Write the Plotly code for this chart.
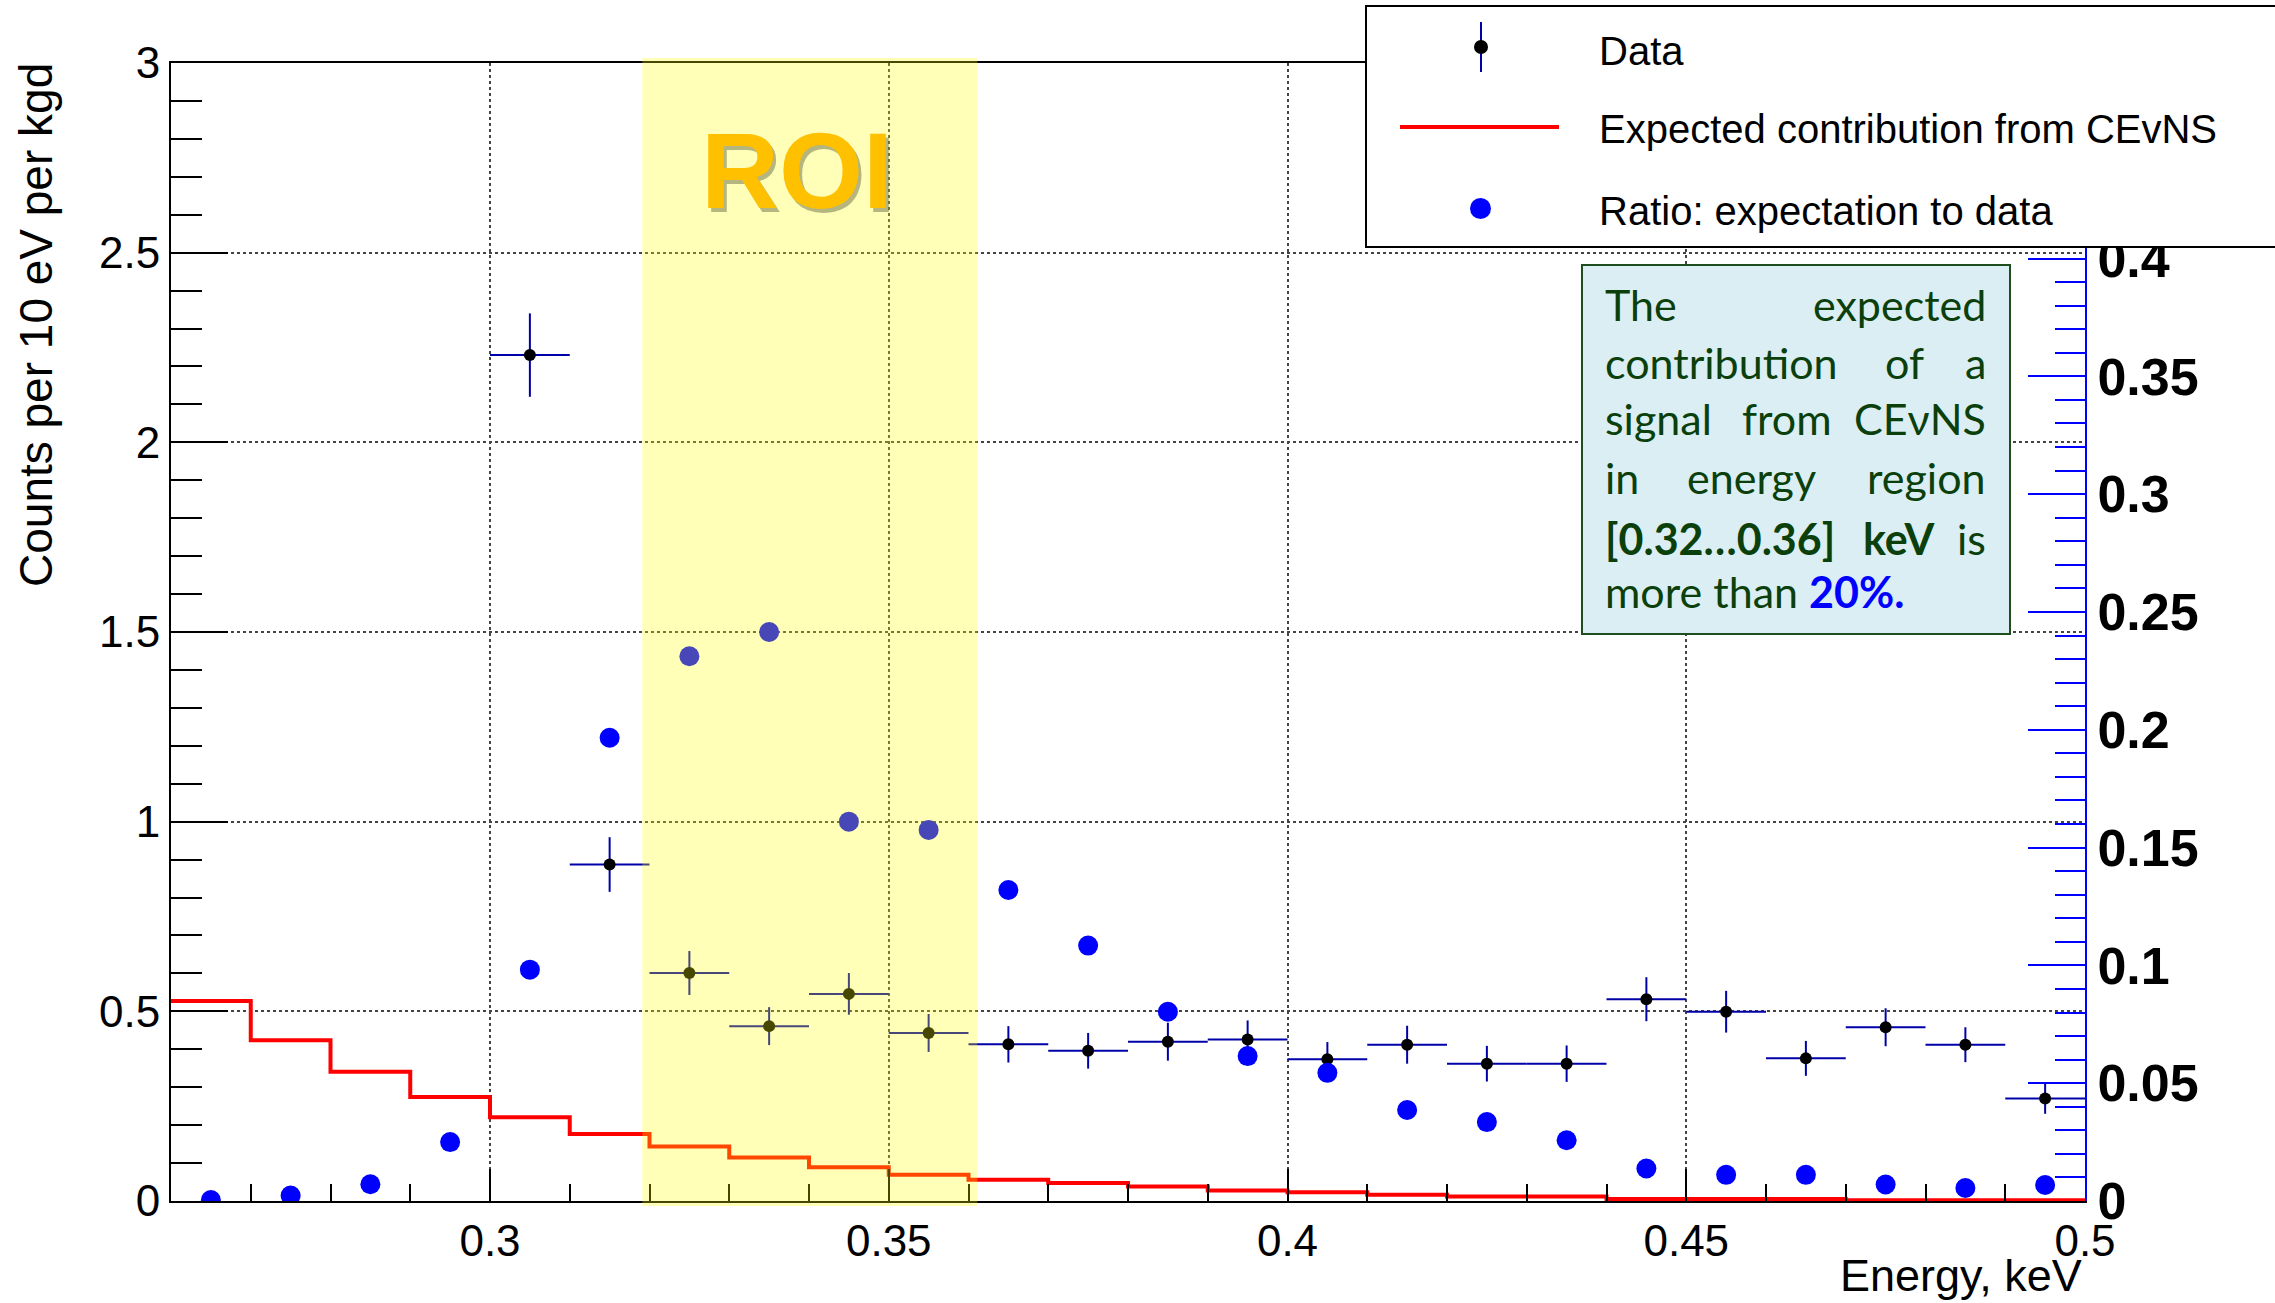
import plotly.graph_objects as go

# ---------------- data ----------------
# measured data (counts per 10 eV per kgd), bin centres in keV
data_x = [0.305, 0.315, 0.325, 0.335, 0.345, 0.355, 0.365, 0.375, 0.385, 0.395,
          0.405, 0.415, 0.425, 0.435, 0.445, 0.455, 0.465, 0.475, 0.485, 0.495]
data_y = [2.23, 0.887, 0.601, 0.461, 0.546, 0.443, 0.413, 0.396, 0.420, 0.426,
          0.374, 0.412, 0.362, 0.362, 0.532, 0.499, 0.376, 0.458, 0.412, 0.270]
data_err = [0.11, 0.072, 0.058, 0.05, 0.055, 0.05, 0.048, 0.047, 0.05, 0.05,
            0.045, 0.05, 0.047, 0.048, 0.058, 0.055, 0.046, 0.05, 0.046, 0.04]
bin_half = [0.005] * len(data_x)

# expected CEvNS contribution (step histogram), bin edges in keV
exp_edges = [0.26, 0.27, 0.28, 0.29, 0.30, 0.31, 0.32, 0.33, 0.34, 0.35, 0.36, 0.37, 0.38,
             0.39, 0.40, 0.41, 0.42, 0.43, 0.44, 0.45, 0.46, 0.47, 0.48, 0.49, 0.50]
exp_vals = [0.527, 0.4235, 0.341, 0.274, 0.2205, 0.1766, 0.1436, 0.115, 0.0888, 0.069,
            0.0559, 0.0474, 0.0385, 0.0274, 0.023, 0.0163, 0.0121, 0.0121, 0.0055,
            0.005, 0.005, 0.002, 0.002, 0.002]

# ratio expectation / data (right axis)
ratio_x = [0.265, 0.275, 0.285, 0.295, 0.305, 0.315, 0.325, 0.335, 0.345, 0.355, 0.365, 0.375,
           0.385, 0.395, 0.405, 0.415, 0.425, 0.435, 0.445, 0.455, 0.465, 0.475, 0.485, 0.495]
ratio_y = [0.0004, 0.0023, 0.0071, 0.025, 0.0982, 0.1966, 0.2312, 0.2415, 0.161, 0.1575,
           0.132, 0.1084, 0.0803, 0.0615, 0.0544, 0.0386, 0.0335, 0.0258, 0.0138, 0.0111,
           0.0111, 0.007, 0.0055, 0.0068]

roi_lo, roi_hi = 0.3191, 0.3611
x_range = [0.26, 0.5]
y_range = [0, 3]
y2_range = [0, 0.483]
y2_ticks = [0, 0.05, 0.1, 0.15, 0.2, 0.25, 0.3, 0.35, 0.4]

legend_labels = ["Data", "Expected contribution from CEvNS", "Ratio: expectation to data"]

# ---------------- layout helpers (pixel -> paper) ----------------
W, H = 2275, 1303
L, R, T, B = 171, 2085, 63, 1201


def fx(p):
    return (p - L) / (R - L)


def fy(p):
    return (B - p) / (B - T)


FONT = "Liberation Sans, Arial, Helvetica, sans-serif"
BOXFONT = "Lato, Carlito, Calibri, sans-serif"

fig = go.Figure()

# expected contribution (step)
fig.add_trace(go.Scatter(
    x=exp_edges, y=exp_vals + [exp_vals[-1]], mode="lines", line_shape="hv",
    line=dict(color="#FF0000", width=4), showlegend=False, hoverinfo="skip"))

# data with error bars
fig.add_trace(go.Scatter(
    x=data_x, y=data_y, mode="markers",
    marker=dict(color="black", size=12),
    error_x=dict(type="data", array=bin_half, color="#0000A8", thickness=2, width=0),
    error_y=dict(type="data", array=data_err, color="#0000A8", thickness=2, width=0),
    showlegend=False))

# ratio on right axis
fig.add_trace(go.Scatter(
    x=ratio_x, y=ratio_y, mode="markers", yaxis="y2",
    marker=dict(color="#0000FF", size=20), showlegend=False))

shapes = []
# ROI band
shapes.append(dict(type="rect", xref="paper", yref="paper",
                   x0=(roi_lo - x_range[0]) / (x_range[1] - x_range[0]),
                   x1=(roi_hi - x_range[0]) / (x_range[1] - x_range[0]),
                   y0=fy(1206), y1=fy(58),
                   fillcolor="rgba(255,255,0,0.28)", line=dict(width=0), layer="above"))
# legend box
shapes.append(dict(type="rect", xref="paper", yref="paper",
                   x0=fx(1366), x1=fx(2300), y0=fy(247), y1=fy(6),
                   fillcolor="white", line=dict(color="black", width=2), layer="above"))
# legend glyphs
shapes.append(dict(type="line", xref="paper", yref="paper",
                   x0=fx(1481), x1=fx(1481), y0=fy(72), y1=fy(22),
                   line=dict(color="#0000A8", width=2), layer="above"))
shapes.append(dict(type="circle", xref="paper", yref="paper",
                   x0=fx(1474), x1=fx(1488), y0=fy(54), y1=fy(40),
                   fillcolor="black", line=dict(width=0), layer="above"))
shapes.append(dict(type="line", xref="paper", yref="paper",
                   x0=fx(1400), x1=fx(1559), y0=fy(127), y1=fy(127),
                   line=dict(color="#FF0000", width=4), layer="above"))
shapes.append(dict(type="circle", xref="paper", yref="paper",
                   x0=fx(1470), x1=fx(1491), y0=fy(219), y1=fy(198),
                   fillcolor="#0000FF", line=dict(width=0), layer="above"))
# text box
shapes.append(dict(type="rect", xref="paper", yref="paper",
                   x0=fx(1582), x1=fx(2010), y0=fy(634), y1=fy(265),
                   fillcolor="#DAEEF3", line=dict(color="#1E4D1E", width=2), layer="above"))

ann = []
# legend texts
for lab, ym in zip(legend_labels, [50.5, 129, 211]):
    ann.append(dict(xref="paper", yref="paper", x=fx(1597), y=fy(ym),
                    xanchor="left", yanchor="middle", text=lab, showarrow=False,
                    font=dict(family=FONT, size=40, color="black")))

# ROI label (with shadow)
ann.append(dict(xref="paper", yref="paper", x=fx(800), y=fy(174),
                xanchor="center", yanchor="middle", text="<b>ROI</b>", showarrow=False,
                font=dict(family="Liberation Sans Narrow, Arial Narrow, Liberation Sans, sans-serif",
                          size=108, color="rgba(90,90,60,0.45)")))
ann.append(dict(xref="paper", yref="paper", x=fx(797), y=fy(171),
                xanchor="center", yanchor="middle", text="<b>ROI</b>", showarrow=False,
                font=dict(family="Liberation Sans Narrow, Arial Narrow, Liberation Sans, sans-serif",
                          size=108, color="#FFC000")))

# justified text box, word by word
G = "#0B3F0B"
box_lines = [
    (304, [("The", 1603, "left"), ("expected", 1988, "right")]),
    (362, [("contribution", 1603, "left"), ("of", 1904, "center"), ("a", 1988, "right")]),
    (419, [("signal", 1603, "left"), ("from", 1787, "center"), ("CEνNS", 1988, "right")]),
    (477, [("in", 1603, "left"), ("energy", 1751, "center"), ("region", 1988, "right")]),
    (538, [("<b>[0.32…0.36]</b>", 1603, "left"), ("<b>keV</b>", 1899, "center"), ("is", 1988, "right")]),
    (591, [("more than <b><span style='color:#0000FF'>20%.</span></b>", 1603, "left")]),
]
for ym, words in box_lines:
    for txt, xp, xa in words:
        ann.append(dict(xref="paper", yref="paper", x=fx(xp), y=fy(ym),
                        xanchor=xa, yanchor="middle", text=txt, showarrow=False,
                        font=dict(family=BOXFONT, size=43, color=G)))

# axis titles
ann.append(dict(xref="paper", yref="paper", x=fx(36), y=fy(61),
                xanchor="center", yanchor="top", textangle=-90,
                text="Counts per 10 eV per kgd", showarrow=False,
                font=dict(family=FONT, size=46, color="black")))
ann.append(dict(xref="paper", yref="paper", x=fx(2084), y=fy(1275),
                xanchor="right", yanchor="middle",
                text="Energy, keV", showarrow=False,
                font=dict(family=FONT, size=45, color="black")))

fig.update_layout(
    width=W, height=H,
    margin=dict(l=L, r=W - R, t=T, b=H - B, pad=0),
    paper_bgcolor="white", plot_bgcolor="white",
    showlegend=False,
    shapes=shapes, annotations=ann,
    xaxis=dict(range=x_range, dtick=0.05, tick0=0, ticks="inside", ticklen=32,
               tickwidth=2, tickcolor="black",
               minor=dict(dtick=0.01, tick0=0, ticks="inside", ticklen=17,
                          tickwidth=2, tickcolor="black"),
               showline=True, linecolor="black", linewidth=2, mirror=True,
               showgrid=True, gridcolor="#444444", griddash="dot", gridwidth=1.5,
               zeroline=False,
               tickfont=dict(family=FONT, size=44, color="black")),
    yaxis=dict(range=y_range, dtick=0.5, tick0=0, ticks="inside", ticklen=57,
               tickwidth=2, tickcolor="black",
               minor=dict(dtick=0.1, tick0=0, ticks="inside", ticklen=31,
                          tickwidth=2, tickcolor="black"),
               showline=True, linecolor="black", linewidth=2,
               showgrid=True, gridcolor="#444444", griddash="dot", gridwidth=1.5,
               zeroline=False,
               tickfont=dict(family=FONT, size=44, color="black")),
    yaxis2=dict(range=y2_range, overlaying="y", side="right", anchor="x",
                tickvals=y2_ticks, ticks="inside", ticklen=57, tickwidth=2,
                tickcolor="#0000FF",
                minor=dict(dtick=0.01, tick0=0, ticks="inside", ticklen=30,
                           tickwidth=2, tickcolor="#0000FF"),
                showline=True, linecolor="#0000FF", linewidth=2,
                showgrid=False, zeroline=False,
                tickfont=dict(family=FONT, size=52, color="black", weight="bold")),
)

fig.write_html("out.html")
